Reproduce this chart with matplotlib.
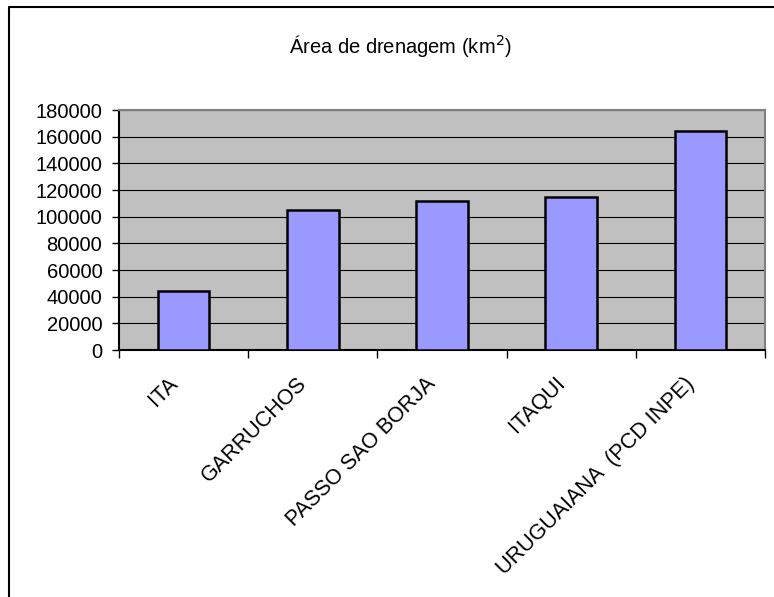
import numpy as np
import matplotlib.pyplot as plt
from matplotlib.lines import Line2D
from matplotlib.transforms import ScaledTranslation

plt.rcParams['font.family'] = ['Liberation Sans', 'DejaVu Sans']

stations = ['ITA', 'GARRUCHOS', 'PASSO SAO BORJA', 'ITAQUI', 'URUGUAIANA  (PCD INPE)']
area_km2 = [44400, 104700, 111500, 115000, 164400]
yticks = list(range(0, 180001, 20000))

fig = plt.figure(figsize=(7.74, 5.97), dpi=100)
ax = fig.add_axes([119/774, 1 - 350/597, 646/774, 240/597])

x = np.arange(len(stations))
ax.set_facecolor('#C0C0C0')
ax.bar(x, area_km2, width=0.4, color='#9999FF', edgecolor='black', linewidth=1.8, zorder=3)

ax.set_xlim(-0.5, len(stations) - 0.5)
ax.set_ylim(0, 180000)
ax.set_yticks(yticks)
ax.set_yticklabels([str(v) for v in yticks])
ax.yaxis.grid(True, color='black', linewidth=0.8, zorder=1)
ax.set_axisbelow(True)

# tick marks between categories, labels on minor ticks at the centres
ax.set_xticks(np.arange(-0.5, len(stations), 1.0))
ax.set_xticklabels([])
ax.set_xticks(x, minor=True)
ax.set_xticklabels(stations, minor=True, rotation=45, ha='right', va='center',
                   rotation_mode='anchor', fontsize=15.5)
ax.tick_params(axis='x', which='major', direction='out', length=6, width=1, color='black')
ax.tick_params(axis='x', which='minor', length=0, pad=22)
for lab in ax.get_xticklabels(minor=True):
    lab.set_transform(lab.get_transform() + ScaledTranslation(-0.09, 0, fig.dpi_scale_trans))
ax.tick_params(axis='y', direction='out', length=5, width=1, color='black', labelsize=14.5, pad=7)

ax.spines['left'].set_color('black')
ax.spines['bottom'].set_color('black')
ax.spines['top'].set_color('#808080')
ax.spines['right'].set_color('#808080')
for s in ax.spines.values():
    s.set_linewidth(1.5)

fig.text(400/774, 1 - 46/597, 'Área de drenagem (km$^2$)', ha='center', va='center', fontsize=14.5)

# outer chart frame (left and top only visible)
fig.add_artist(Line2D([9/774, 9/774, 1.0], [0.0, 1 - 7/597, 1 - 7/597],
                      transform=fig.transFigure, color='black', linewidth=1.5))

fig.savefig('out.png', dpi=100)
